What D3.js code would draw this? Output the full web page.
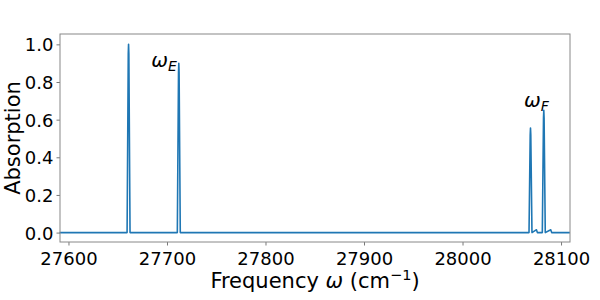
<!DOCTYPE html>
<html><head><meta charset="utf-8">
<script src="https://cdn.jsdelivr.net/npm/d3@7"></script>
<style>body{margin:0;background:#fff}svg{display:block}text{font-family:"DejaVu Sans",sans-serif;fill:#000}</style>
</head><body><svg id="c" width="600" height="300"></svg>
<script>
// Spectrum points
const freq = [27591, 27659.5, 27660.7, 27661, 27661.3, 27662.5,
  27710.5, 27711.7, 27712, 27712.3, 27713.5,
  28067.5, 28068.7, 28069, 28069.3, 28070.5,
  28074, 28075, 28076,
  28081, 28082.2, 28082.5, 28082.8, 28084,
  28088.5, 28089.5, 28090.5, 28109];
const absorption = [0, 0, 0.95, 1.0, 0.95, 0,
  0, 0.85, 0.90, 0.85, 0,
  0, 0.52, 0.555, 0.52, 0,
  0.012, 0.015, 0,
  0, 0.61, 0.65, 0.61, 0,
  0.012, 0.015, 0, 0];
const xTicks = [27600, 27700, 27800, 27900, 28000, 28100];
const yTicks = [0.0, 0.2, 0.4, 0.6, 0.8, 1.0];
const peakLabels = [{base:"ω", sub:"E", f:27697, a:0.88}, {base:"ω", sub:"F", f:28075, a:0.665}];

const m = {l:60, r:570, t:34, b:242};
const svg = d3.select("#c");
const x = d3.scaleLinear().domain([27591.4, 28109.1]).range([m.l, m.r]);
const y = d3.scaleLinear().domain([-0.05, 1.055]).range([m.b, m.t]);

const xa = svg.append("g").attr("transform",`translate(0,${m.b})`)
  .call(d3.axisBottom(x).tickValues(xTicks).tickFormat(d3.format("d")).tickSize(3.5).tickPadding(3));
const ya = svg.append("g").attr("transform",`translate(${m.l},0)`)
  .call(d3.axisLeft(y).tickValues(yTicks).tickFormat(d3.format(".1f")).tickSize(3.5).tickPadding(3));
[xa, ya].forEach(g => {
  g.select(".domain").remove();
  g.selectAll("line").attr("stroke","#555").attr("stroke-width",0.8);
  g.selectAll("text").style("font-family","DejaVu Sans").style("font-size","18px").attr("fill","#000");
});
ya.selectAll("text").attr("dy","0.36em");
xa.selectAll("text").attr("dy","0.9em");

svg.append("path").datum(freq.map((f,i)=>[f,absorption[i]]))
  .attr("fill","none").attr("stroke","#1f77b4").attr("stroke-width",1.6).attr("stroke-linejoin","round")
  .attr("d", d3.line().x(d=>x(d[0])).y(d=>y(d[1])));

svg.append("rect").attr("x",m.l).attr("y",m.t).attr("width",m.r-m.l).attr("height",m.b-m.t)
  .attr("fill","none").attr("stroke","#888").attr("stroke-width",1);

peakLabels.forEach(p => {
  const t = svg.append("text").attr("x", x(p.f)).attr("y", y(p.a)).attr("text-anchor","middle")
    .style("font-size","20px");
  t.append("tspan").style("font-style","italic").text(p.base);
  t.append("tspan").style("font-style","italic").style("font-size","14px").attr("dy","4").text(p.sub);
});

svg.append("text").attr("x",(m.l+m.r)/2).attr("y",288).attr("text-anchor","middle").style("font-size","21px")
  .call(t=>{
    t.append("tspan").text("Frequency ");
    t.append("tspan").style("font-style","italic").text("ω");
    t.append("tspan").text(" (cm");
    t.append("tspan").style("font-size","14.5px").attr("dy","-8").text("−1");
    t.append("tspan").attr("dy","8").text(")");
  });
svg.append("text").attr("transform",`translate(20,${(m.t+m.b)/2}) rotate(-90)`).attr("text-anchor","middle")
  .style("font-size","21px").text("Absorption");
</script></body></html>
